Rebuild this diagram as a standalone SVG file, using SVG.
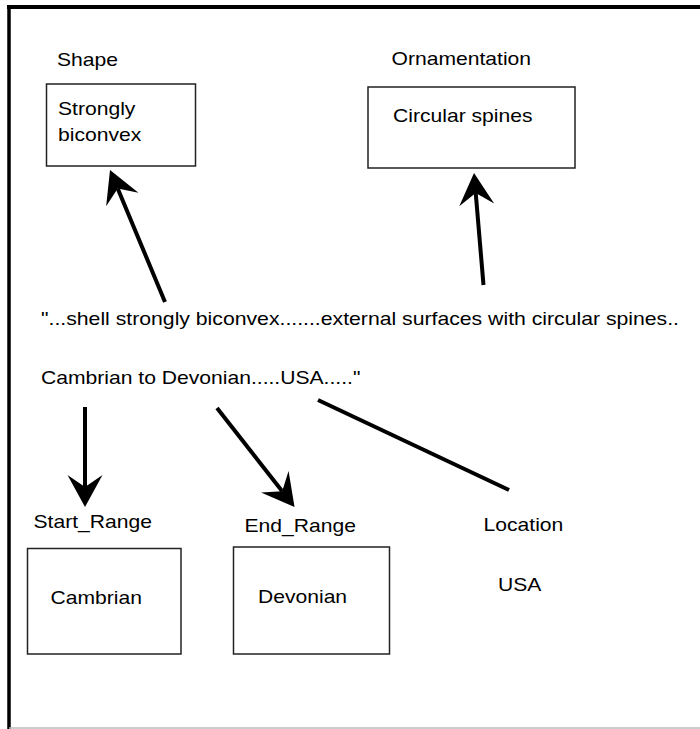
<svg xmlns="http://www.w3.org/2000/svg" width="700" height="729" viewBox="0 0 700 729">
  <style>
    text { font-family: "Liberation Sans", Arial, Helvetica, sans-serif; font-size: 18.5px; fill: #000; }
    .box { fill: #fff; stroke: #222; stroke-width: 1.5; }
    .conn { stroke: #000; stroke-width: 4; fill: none; }
    .arrow { marker-end: url(#head); }
  </style>
  <defs>
    <marker id="head" markerUnits="userSpaceOnUse" viewBox="-14 -20 40 40" markerWidth="40" markerHeight="40" refX="0" refY="0" orient="auto" overflow="visible">
      <path d="M20,0 L-12,-17.5 L0,0 L-12,17.5 Z" fill="#000"/>
    </marker>
  </defs>
  <rect width="700" height="729" fill="#fff"/>
  <g id="frame">
    <line x1="9" y1="5" x2="9" y2="729" stroke="#000" stroke-width="3.5"/>
    <line x1="7" y1="7" x2="700" y2="7" stroke="#000" stroke-width="4"/>
    <line x1="9" y1="728" x2="700" y2="728" stroke="#bbb" stroke-width="1.5"/>
  </g>
  <g id="connectors">
    <line class="conn arrow" x1="165" y1="302" x2="117.7" y2="188.5"/>
    <line class="conn arrow" x1="483.5" y1="285" x2="475.7" y2="192.9"/>
    <line class="conn arrow" x1="85" y1="407" x2="85" y2="487"/>
    <line class="conn arrow" x1="217" y1="408" x2="282.2" y2="491.2"/>
    <line class="conn" x1="318" y1="400" x2="509" y2="490"/>
  </g>
  <g id="shape">
    <text x="57" y="66" textLength="61" lengthAdjust="spacingAndGlyphs">Shape</text>
    <rect class="box" x="46.5" y="84" width="149" height="82"/>
    <text x="58" y="115" textLength="77.4" lengthAdjust="spacingAndGlyphs">Strongly</text>
    <text x="58" y="141" textLength="83.3" lengthAdjust="spacingAndGlyphs">biconvex</text>
  </g>
  <g id="ornamentation">
    <text x="391.5" y="65" textLength="139.6" lengthAdjust="spacingAndGlyphs">Ornamentation</text>
    <rect class="box" x="368" y="87" width="207" height="81"/>
    <text x="393" y="122" textLength="139.5" lengthAdjust="spacingAndGlyphs">Circular spines</text>
  </g>
  <g id="quote">
    <text x="41" y="325" textLength="638" lengthAdjust="spacingAndGlyphs">"...shell strongly biconvex.......external surfaces with circular spines..</text>
    <text x="41" y="384" textLength="319.4" lengthAdjust="spacingAndGlyphs">Cambrian to Devonian.....USA....."</text>
  </g>
  <g id="start_range">
    <text x="33.5" y="528" textLength="118.5" lengthAdjust="spacingAndGlyphs">Start_Range</text>
    <rect class="box" x="27.5" y="548.5" width="153.5" height="105.5"/>
    <text x="50.5" y="604" textLength="91.4" lengthAdjust="spacingAndGlyphs">Cambrian</text>
  </g>
  <g id="end_range">
    <text x="244.5" y="532" textLength="111.4" lengthAdjust="spacingAndGlyphs">End_Range</text>
    <rect class="box" x="233.5" y="547" width="156" height="107"/>
    <text x="258" y="603" textLength="89.1" lengthAdjust="spacingAndGlyphs">Devonian</text>
  </g>
  <g id="location">
    <text x="483.5" y="531" textLength="79.8" lengthAdjust="spacingAndGlyphs">Location</text>
    <text x="498" y="591" textLength="43.4" lengthAdjust="spacingAndGlyphs">USA</text>
  </g>
</svg>
